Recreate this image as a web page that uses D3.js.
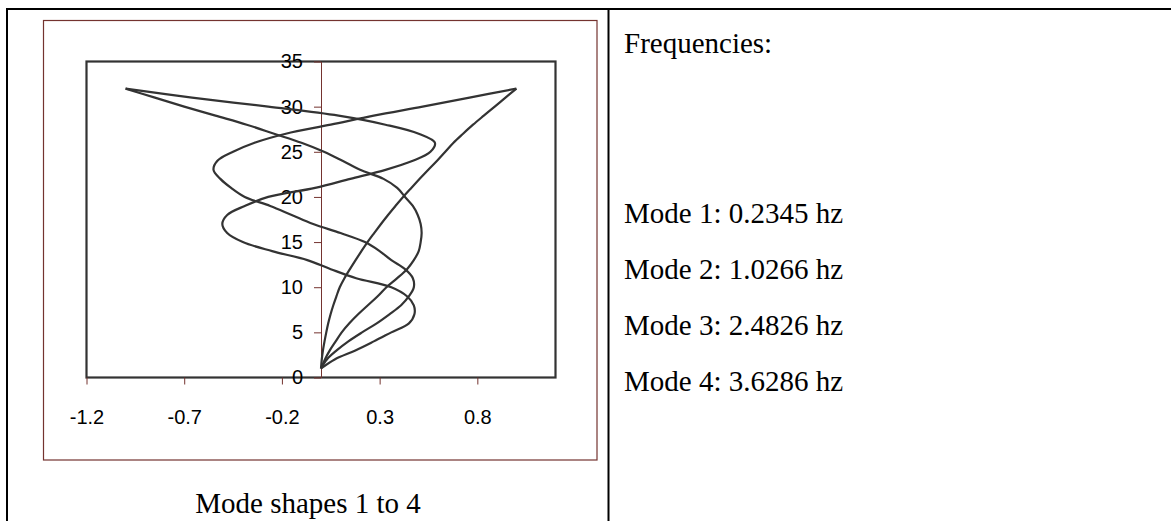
<!DOCTYPE html>
<html>
<head>
<meta charset="utf-8">
<script src="https://cdn.jsdelivr.net/npm/d3@7"></script>
<style>
  body { margin: 0; background: #fff; }
</style>
</head>
<body>
<div class="svg-container"></div>
<script>

/*** Data ***/

let heights = [1, 2, 3, 4, 5, 6, 7, 8, 9, 10, 11, 12, 13, 14, 15, 16,
    17, 18, 19, 20, 21, 22, 23, 24, 25, 26, 27, 28, 29, 30, 31, 32]

let mode1 = [0, 0.004, 0.01, 0.018, 0.027, 0.037, 0.049, 0.063, 0.079, 0.096, 0.12, 0.148,
    0.177, 0.207, 0.238, 0.272, 0.307, 0.343, 0.381, 0.42, 0.462, 0.505, 0.549, 0.594,
    0.636, 0.678, 0.727, 0.778, 0.833, 0.889, 0.944, 1.0]

let mode2 = [0, 0.02, 0.045, 0.075, 0.106, 0.145, 0.19, 0.24, 0.29, 0.335, 0.39, 0.44,
    0.475, 0.5, 0.51, 0.515, 0.51, 0.495, 0.47, 0.43, 0.39, 0.32, 0.2, 0.11,
    0.015, -0.1, -0.24, -0.38, -0.54, -0.7, -0.85, -1.0]

let mode3 = [0, 0.03, 0.08, 0.14, 0.21, 0.285, 0.35, 0.41, 0.45, 0.475, 0.47, 0.43,
    0.36, 0.3, 0.225, 0.1, -0.04, -0.15, -0.26, -0.39, -0.46, -0.515, -0.55, -0.53,
    -0.45, -0.34, -0.18, 0.05, 0.27, 0.52, 0.76, 1.0]

let mode4 = [0, 0.07, 0.176, 0.27, 0.36, 0.45, 0.478, 0.475, 0.44, 0.36, 0.18, 0.05,
    -0.07, -0.25, -0.4, -0.48, -0.505, -0.48, -0.39, -0.27, -0.03, 0.15, 0.33, 0.47,
    0.56, 0.583, 0.5, 0.33, 0.09, -0.27, -0.66, -1.0]

let modes = [mode1, mode2, mode3, mode4]

let xTicks = [-1.2, -0.7, -0.2, 0.3, 0.8]
let yTicks = [0, 5, 10, 15, 20, 25, 30, 35]

let freqTitle = "Frequencies:"
let freqLabels = ["Mode 1: 0.2345 hz", "Mode 2: 1.0266 hz", "Mode 3: 2.4826 hz", "Mode 4: 3.6286 hz"]
let caption = "Mode shapes 1 to 4"

/*** Layout ***/

const svgWidth = 1171
const svgHeight = 521

const plotLeft = 86.5
const plotRight = 555.5
const plotTop = 61.5
const plotBottom = 377.5

const brown = "#74332f"
const ink = "#333"

let svg = d3.select(".svg-container")
    .append("svg")
    .attr("width", svgWidth)
    .attr("height", svgHeight)
    .style("display", "block")

/* table lines */

svg.append("line")
    .attr("x1", 6).attr("x2", svgWidth)
    .attr("y1", 9).attr("y2", 9)
    .attr("stroke", "#000").attr("stroke-width", 2)

svg.append("line")
    .attr("x1", 7).attr("x2", 7)
    .attr("y1", 8).attr("y2", svgHeight)
    .attr("stroke", "#000").attr("stroke-width", 2)

svg.append("line")
    .attr("x1", 608.5).attr("x2", 608.5)
    .attr("y1", 8).attr("y2", svgHeight)
    .attr("stroke", "#000").attr("stroke-width", 2)

/* chart frame */

svg.append("rect")
    .attr("x", 43.5).attr("y", 20.5)
    .attr("width", 553.5).attr("height", 439.5)
    .attr("fill", "none")
    .attr("stroke", brown)
    .attr("stroke-width", 1.2)

/* scales */

let xScale = d3.scaleLinear()
    .domain([-1.2, 1.2])
    .range([plotLeft, plotRight])

let yScale = d3.scaleLinear()
    .domain([0, 35])
    .range([plotBottom, plotTop])

/* plot area border */

svg.append("rect")
    .attr("x", plotLeft).attr("y", plotTop)
    .attr("width", plotRight - plotLeft)
    .attr("height", plotBottom - plotTop)
    .attr("fill", "none")
    .attr("stroke", ink)
    .attr("stroke-width", 2.2)

/* axes */

let bottomAxis = d3.axisBottom(xScale)
    .tickValues(xTicks)
    .tickFormat(d => d.toFixed(1))
    .tickSize(7)
    .tickSizeOuter(0)
    .tickPadding(25)

let xAxis = svg.append("g")
    .attr("transform", `translate(0, ${plotBottom})`)
    .call(bottomAxis)

xAxis.select(".domain").remove()
xAxis.selectAll("line").attr("stroke", brown)
xAxis.selectAll("text")
    .attr("fill", "#000")
    .style("font-family", "'Liberation Sans', Arial, sans-serif")
    .style("font-size", "20px")

let leftAxis = d3.axisLeft(yScale)
    .tickValues(yTicks)
    .tickSize(7)
    .tickSizeOuter(0)
    .tickPadding(11)

let yAxis = svg.append("g")
    .attr("transform", `translate(${xScale(0)}, 0)`)
    .call(leftAxis)

yAxis.select(".domain").attr("stroke", brown)
yAxis.selectAll("line").attr("stroke", brown)
yAxis.selectAll("text")
    .attr("fill", "#000")
    .style("font-family", "'Liberation Sans', Arial, sans-serif")
    .style("font-size", "20px")

/* mode shape lines */

let line = d3.line()
    .x(d => xScale(d[0]))
    .y(d => yScale(d[1]))
    .curve(d3.curveCatmullRom.alpha(0.5))

svg.append("g")
    .selectAll("path")
    .data(modes)
    .enter()
    .append("path")
    .attr("d", m => line(m.map((v, i) => [v, heights[i]])))
    .attr("fill", "none")
    .attr("stroke", ink)
    .attr("stroke-width", 2.2)
    .attr("stroke-linejoin", "round")

/* texts */

const serif = "'Liberation Serif', 'Times New Roman', serif"

svg.append("text")
    .attr("x", 308)
    .attr("y", 513)
    .attr("text-anchor", "middle")
    .style("font-family", serif)
    .style("font-size", "29px")
    .text(caption)

svg.append("text")
    .attr("x", 624)
    .attr("y", 53)
    .style("font-family", serif)
    .style("font-size", "29px")
    .text(freqTitle)

svg.append("g")
    .selectAll("text")
    .data(freqLabels)
    .enter()
    .append("text")
    .attr("x", 624)
    .attr("y", (d, i) => 222.5 + i * 56)
    .style("font-family", serif)
    .style("font-size", "29px")
    .text(d => d)

</script>
</body>
</html>
